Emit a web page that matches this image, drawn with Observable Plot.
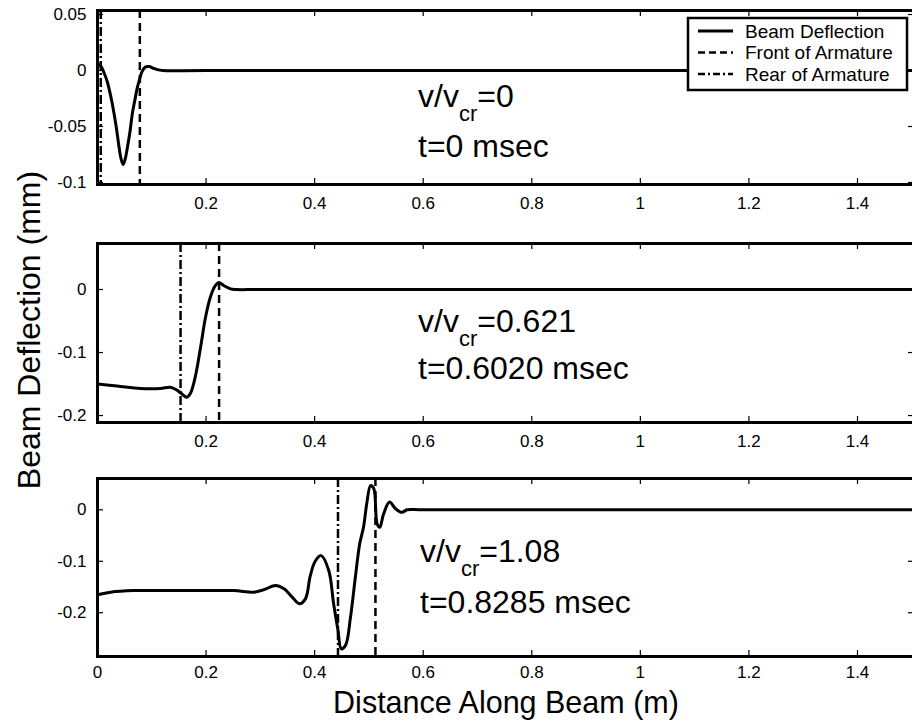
<!DOCTYPE html>
<html>
<head>
<meta charset="utf-8">
<script src="https://cdn.jsdelivr.net/npm/d3@7"></script>
<script src="https://cdn.jsdelivr.net/npm/@observablehq/plot@0.6"></script>
<style>
  html, body { margin: 0; padding: 0; background: #fff; overflow: hidden; }
  #wrap { position: relative; width: 912px; height: 721px; overflow: hidden; background: #fff; }
  .panel { position: absolute; left: 0; max-width: none !important; }
  #overlay { position: absolute; left: 0; top: 0; pointer-events: none; }
  #overlay text { font-family: "Liberation Sans", Arial, sans-serif; fill: #000; }
</style>
</head>
<body>
<div id="wrap"></div>
<script>
// ---------- data ----------
const xTicksTop = [0.2, 0.4, 0.6, 0.8, 1.0, 1.2, 1.4];
const xTicksBottom = [0, 0.2, 0.4, 0.6, 0.8, 1.0, 1.2, 1.4];

// Panel 1: v/vcr = 0, t = 0 msec
const p1X = [0, 0.006, 0.012, 0.018, 0.024, 0.030, 0.035, 0.039, 0.043, 0.047, 0.051, 0.055, 0.060, 0.064, 0.069, 0.073, 0.078, 0.082, 0.088, 0.095, 0.103, 0.110, 0.120, 0.200, 1.505];
const p1Y = [0.006, 0.004, -0.002, -0.010, -0.022, -0.037, -0.052, -0.066, -0.078, -0.084, -0.079, -0.069, -0.054, -0.039, -0.026, -0.016, -0.007, -0.001, 0.003, 0.0035, 0.002, 0.0008, 0, 0, 0];
const p1Rear = 0.006, p1Front = 0.078;
const p1YTicks = [0.05, 0, -0.05, -0.1];

// Panel 2: v/vcr = 0.621, t = 0.6020 msec
const p2X = [0, 0.036, 0.079, 0.116, 0.134, 0.147, 0.156, 0.164, 0.171, 0.180, 0.190, 0.199, 0.208, 0.217, 0.2235, 0.233, 0.245, 0.255, 0.300, 1.505];
const p2Y = [-0.150, -0.153, -0.157, -0.157, -0.155, -0.160, -0.166, -0.171, -0.165, -0.139, -0.091, -0.044, -0.012, 0.006, 0.011, 0.006, 0.001, 0, 0, 0];
const p2Rear = 0.153, p2Front = 0.224;
const p2YTicks = [0, -0.1, -0.2];

// Panel 3: v/vcr = 1.08, t = 0.8285 msec
const p3X = [0, 0.024, 0.067, 0.128, 0.190, 0.251, 0.288, 0.307, 0.328, 0.343, 0.359, 0.372, 0.383, 0.392, 0.401, 0.412, 0.426, 0.435, 0.443, 0.449, 0.457, 0.466, 0.475, 0.483, 0.490, 0.496, 0.503, 0.509, 0.515, 0.520, 0.527, 0.538, 0.549, 0.561, 0.570, 0.600, 1.505];
const p3Y = [-0.165, -0.160, -0.157, -0.157, -0.157, -0.157, -0.160, -0.155, -0.147, -0.153, -0.170, -0.1825, -0.173, -0.128, -0.100, -0.089, -0.118, -0.183, -0.234, -0.270, -0.263, -0.209, -0.131, -0.066, -0.034, 0.012, 0.047, 0.041, -0.027, -0.034, -0.008, 0.015, 0.002, -0.005, 0, 0, 0];
const p3Rear = 0.443, p3Front = 0.512;
const p3YTicks = [0, -0.1, -0.2];

const legendLabels = ["Beam Deflection", "Front of Armature", "Rear of Armature"];

// ---------- drawing ----------
const FONT = "Liberation Sans, Arial, Helvetica, sans-serif";
const fmt = d => String(d);
const allXTicks = [0.2, 0.4, 0.6, 0.8, 1.0, 1.2, 1.4];
const W = 920, ML = 97, MR = 6, TICK = 6;

function panel(xs, ys, rear, front, yDomain, yTicks, xTicks, height, marginTop, marginBottom, pad) {
  const data = xs.map((x, i) => ({x, y: ys[i]}));
  const innerH = height - marginTop - marginBottom;
  const innerW = W - ML - MR;
  return Plot.plot({
    width: W, height, marginLeft: ML, marginRight: MR, marginTop, marginBottom,
    style: {fontFamily: FONT, fontSize: "17px", color: "#000", background: "transparent", overflow: "visible", maxWidth: "none"},
    x: {domain: [0, 1.505], axis: null},
    y: {domain: yDomain, axis: null},
    marks: [
      Plot.axisX(xTicks, {anchor: "bottom", tickSize: 0, tickPadding: pad, tickFormat: fmt, fontSize: 17, label: null}),
      Plot.axisY(yTicks, {anchor: "left", tickSize: 0, tickPadding: 11, tickFormat: fmt, fontSize: 17, label: null}),
      // inward ticks on all four sides
      Plot.tickX(allXTicks, {x: d => d, stroke: "#000", strokeWidth: 1.2, insetTop: innerH - TICK}),
      Plot.tickX(allXTicks, {x: d => d, stroke: "#000", strokeWidth: 1.2, insetBottom: innerH - TICK}),
      Plot.tickY(yTicks, {y: d => d, stroke: "#000", strokeWidth: 1.2, insetRight: innerW - TICK}),
      Plot.tickY(yTicks, {y: d => d, stroke: "#000", strokeWidth: 1.2, insetLeft: innerW - TICK}),
      Plot.ruleX([rear], {stroke: "#000", strokeWidth: 2.5, strokeDasharray: "9,3,2,3"}),
      Plot.ruleX([front], {stroke: "#000", strokeWidth: 2.5, strokeDasharray: "8,5"}),
      Plot.line(data, {x: "x", y: "y", stroke: "#000", strokeWidth: 3, curve: "catmull-rom"}),
      Plot.frame({stroke: "#000", strokeWidth: 3})
    ]
  });
}

const wrap = document.getElementById("wrap");
const specs = [
  {top: 0,   el: panel(p1X, p1Y, p1Rear, p1Front, [-0.1018, 0.0536], p1YTicks, xTicksTop, 212, 10, 28, 12)},
  {top: 225, el: panel(p2X, p2Y, p2Rear, p2Front, [-0.211, 0.073], p2YTicks, xTicksTop, 222, 18, 25, 12)},
  {top: 455, el: panel(p3X, p3Y, p3Rear, p3Front, [-0.285, 0.0608], p3YTicks, xTicksBottom, 230, 23, 29, 9)}
];
for (const s of specs) {
  s.el.classList.add("panel");
  s.el.style.top = s.top + "px";
  s.el.style.maxWidth = "none";
  s.el.style.width = W + "px";
  wrap.appendChild(s.el);
}

// overlay: axis titles, annotations, legend
const ns = "http://www.w3.org/2000/svg";
const ov = document.createElementNS(ns, "svg");
ov.setAttribute("id", "overlay");
ov.setAttribute("width", 912);
ov.setAttribute("height", 721);
wrap.appendChild(ov);

function txt(x, y, str, size, anchor, transform) {
  const t = document.createElementNS(ns, "text");
  t.setAttribute("x", x); t.setAttribute("y", y);
  t.setAttribute("font-size", size);
  if (anchor) t.setAttribute("text-anchor", anchor);
  if (transform) t.setAttribute("transform", transform);
  t.textContent = str;
  ov.appendChild(t);
  return t;
}
function ratio(x, y, value) {
  const t = document.createElementNS(ns, "text");
  t.setAttribute("x", x); t.setAttribute("y", y);
  t.setAttribute("font-size", 32);
  const a = document.createElementNS(ns, "tspan"); a.textContent = "v/v";
  const b = document.createElementNS(ns, "tspan"); b.textContent = "cr";
  b.setAttribute("font-size", 22); b.setAttribute("dy", 14);
  const c = document.createElementNS(ns, "tspan"); c.textContent = "=" + value;
  c.setAttribute("dy", -14);
  t.append(a, b, c);
  ov.appendChild(t);
}

// axis titles
txt(0, 0, "Beam Deflection (mm)", 32, "middle", "translate(40,330) rotate(-90)");
txt(506, 713, "Distance Along Beam (m)", 30.5, "middle");

// annotations
ratio(418, 107, "0");      txt(418, 157, "t=0 msec", 32);
ratio(418, 332, "0.621");  txt(418, 379, "t=0.6020 msec", 32);
ratio(420, 562, "1.08");   txt(420, 613, "t=0.8285 msec", 32);

// legend
const lg = document.createElementNS(ns, "g");
ov.appendChild(lg);
const box = document.createElementNS(ns, "rect");
box.setAttribute("x", 688); box.setAttribute("y", 18);
box.setAttribute("width", 219); box.setAttribute("height", 72);
box.setAttribute("fill", "#fff"); box.setAttribute("stroke", "#000"); box.setAttribute("stroke-width", 2.5);
lg.appendChild(box);
const dashes = [null, "7,4", "7,3,2,3"];
const rowY = [31, 52.5, 74];
legendLabels.forEach((lab, i) => {
  const l = document.createElementNS(ns, "line");
  l.setAttribute("x1", 698); l.setAttribute("x2", 733);
  l.setAttribute("y1", rowY[i]); l.setAttribute("y2", rowY[i]);
  l.setAttribute("stroke", "#000"); l.setAttribute("stroke-width", i === 0 ? 3 : 2.5);
  if (dashes[i]) l.setAttribute("stroke-dasharray", dashes[i]);
  lg.appendChild(l);
  txt(745, rowY[i] + 6.5, lab, 19);
});
</script>
</body>
</html>
